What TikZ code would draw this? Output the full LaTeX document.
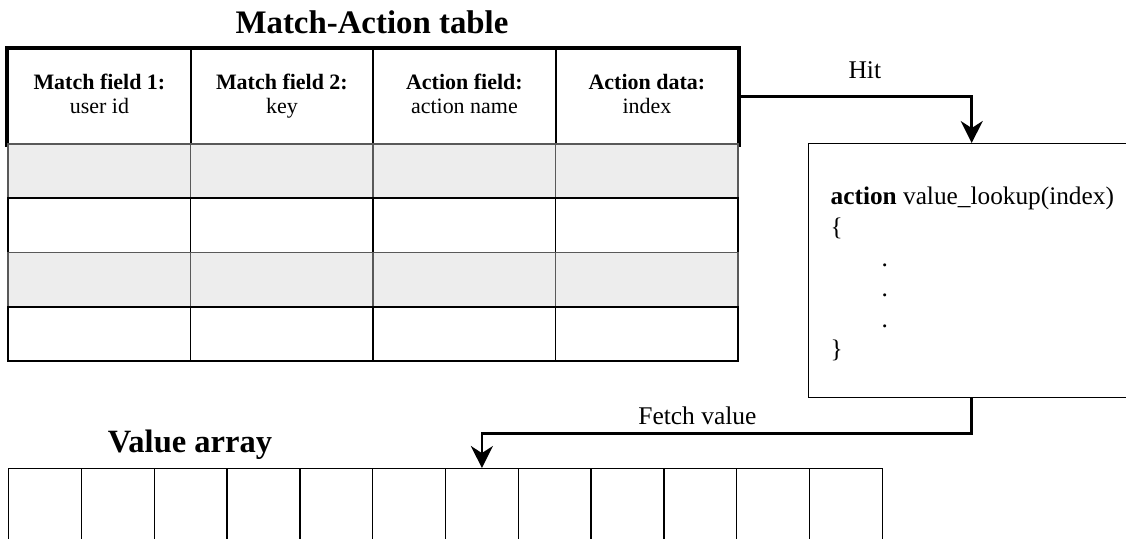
\documentclass[tikz,border=0pt]{standalone}
\usepackage{fontspec}
\setmainfont{Liberation Serif}
\usetikzlibrary{arrows.meta,calc}
\definecolor{rowgray}{HTML}{EDEDED}

\begin{document}
\begin{tikzpicture}[thick,
		hdr/.style={draw, line width=1.3pt, minimum width=3.65cm, minimum height=1.9cm, anchor=north west, align=center, font=\fontsize{12.5}{13.5}\selectfont},
		cell/.style={draw, line width=1pt, minimum width=3.65cm, minimum height=1.085cm, anchor=north west},
		slot/.style={draw, line width=0.8pt, minimum width=1.456cm, minimum height=1.6cm, anchor=north west},
		flow/.style={line width=1.6pt, -{Stealth[length=12.5pt, width=12.5pt, inset=4pt]}},
		lbl/.style={font=\fontsize{14.5}{17}\selectfont}]
		\useasboundingbox (0,0) rectangle (22.52,-10.76);
		\coordinate (table)  at (0.14,  -0.96);
		\coordinate (rows)   at (0.14,  -2.86);
		\coordinate (action) at (16.16, -2.86);
		\coordinate (values) at (0.16,  -9.36);

		\node[font=\fontsize{18.7}{22}\selectfont\bfseries] (TITLE) at (7.44, -0.44) {Match-Action table};
		\node[font=\fontsize{18.5}{22}\selectfont\bfseries] (VTITLE) at (3.8, -8.9) {Value array};

		% header row
		\node[hdr] (H1) at (table) {\strut\textbf{Match field 1:}\\user id\strut};
		\node[hdr] (H2) at ($(table)+(3.65, 0)$) {\strut\textbf{Match field 2:}\\key\strut};
		\node[hdr] (H3) at ($(table)+(7.3, 0)$) {\strut\textbf{Action field:}\\action name\strut};
		\node[hdr] (H4) at ($(table)+(10.95, 0)$) {\strut\textbf{Action data:}\\index\strut};
		\draw[line width=2pt] (H1.north west) rectangle (H4.south east);

		% table entries
		\foreach \r/\fc/\dc in {1/rowgray/black!65, 2/white/black, 3/rowgray/black!65, 4/white/black}
			\foreach \c in {1,...,4}
				\node[cell, fill=\fc, draw=\dc] (R\r C\c) at ($(rows)+({3.65*(\c-1)}, {-1.085*(\r-1)})$) {};

		% action
		\node[draw, line width=0.8pt, minimum width=6.52cm, minimum height=5.08cm, anchor=north west] (LOOKUP) at (action) {};
		\node[lbl, font=\fontsize{14.4}{17.4}\selectfont, inner sep=0pt, anchor=west, align=left] (CODE) at ($(LOOKUP.west)+(0.44, -0.07)$) {\textbf{action} value\_lookup(index)\\\{\\\hspace*{29pt}.\\\hspace*{29pt}.\\\hspace*{29pt}.\\\}};

		% value array
		\foreach \i in {1,...,12}
			\node[slot] (V\i) at ($(values)+({1.456*(\i-1)}, 0)$) {};

		\draw[flow] (H4.east) -| node[lbl, pos=0.27, above, yshift=6pt] (HIT) {Hit} (LOOKUP.north);
		\draw[flow] (LOOKUP.south) -- ++(0, -0.7) -| node[lbl, pos=0.28, above, yshift=1pt] (FETCH) {Fetch value} (V7.north);

	\end{tikzpicture}
\end{document}
